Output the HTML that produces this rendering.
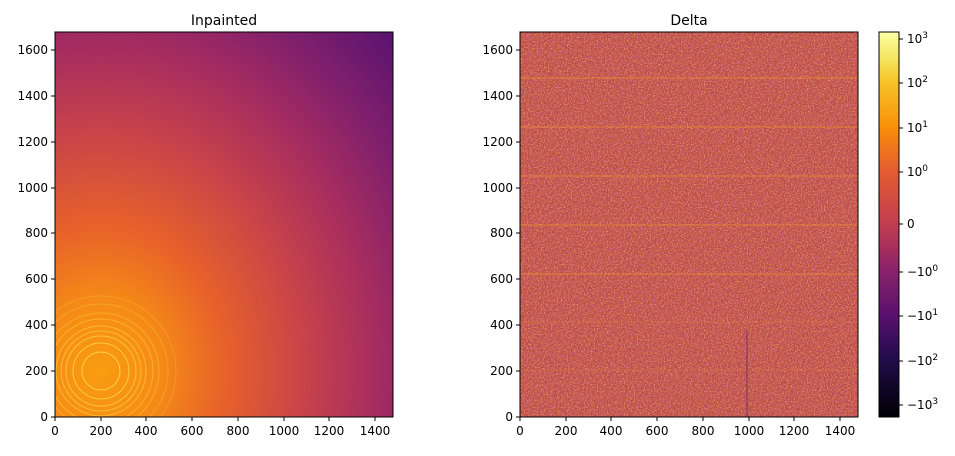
<!DOCTYPE html>
<html><head><style>
body{margin:0;background:#fff;font-family:"Liberation Sans","DejaVu Sans",sans-serif;}
</style></head><body>
<svg width="955" height="451" viewBox="0 0 955 451" xmlns="http://www.w3.org/2000/svg" font-family="'DejaVu Sans','Liberation Sans',sans-serif" font-size="12">
<defs>
<radialGradient id="lg" gradientUnits="userSpaceOnUse" cx="101" cy="371" r="480" gradientTransform="translate(101 371) scale(0.85 1) translate(-101 -371)">
<stop offset="0" stop-color="#f99d10"/>
<stop offset="0.15" stop-color="#f58a16"/>
<stop offset="0.3" stop-color="#e8622a"/>
<stop offset="0.5" stop-color="#c8434a"/>
<stop offset="0.68" stop-color="#a52c60"/>
<stop offset="0.84" stop-color="#7e1f6d"/>
<stop offset="1" stop-color="#5a136e"/>
</radialGradient>
<linearGradient id="cb" x1="0" y1="0" x2="0" y2="1">
<stop offset="0" stop-color="#fcffa4"/>
<stop offset="0.07" stop-color="#f3e55d"/>
<stop offset="0.13" stop-color="#f8c32a"/>
<stop offset="0.25" stop-color="#f98e09"/>
<stop offset="0.36" stop-color="#e55c30"/>
<stop offset="0.5" stop-color="#c13d50"/>
<stop offset="0.62" stop-color="#8a226a"/>
<stop offset="0.74" stop-color="#57106e"/>
<stop offset="0.85" stop-color="#210c4a"/>
<stop offset="1" stop-color="#000004"/>
</linearGradient>
<filter id="nz" x="0" y="0" width="100%" height="100%">
<feTurbulence type="fractalNoise" baseFrequency="0.7" numOctaves="1" seed="3"/>
<feColorMatrix type="matrix" values="0 0 0 0 0.92  0 0 0 0 0.48  0 0 0 0 0.12  2.2 0 0 0 -1.0"/>
</filter>
<filter id="nz2" x="0" y="0" width="100%" height="100%">
<feTurbulence type="fractalNoise" baseFrequency="0.7" numOctaves="1" seed="11"/>
<feColorMatrix type="matrix" values="0 0 0 0 0.55  0 0 0 0 0.16  0 0 0 0 0.38  2.2 0 0 0 -1.0"/>
</filter>
</defs>
<!-- left -->
<rect x="55" y="32" width="338" height="385" fill="url(#lg)"/>
<clipPath id="cl"><rect x="55" y="32" width="338" height="385"/></clipPath>
<g clip-path="url(#cl)" fill="none" stroke="#ffd84a">
<circle cx="101" cy="371" r="19" stroke-opacity="0.9"/>
<circle cx="101" cy="371" r="28" stroke-opacity="0.8"/>
<circle cx="101" cy="371" r="35" stroke-opacity="0.7"/>
<circle cx="101" cy="371" r="40" stroke-opacity="0.6"/>
<circle cx="101" cy="371" r="45" stroke-opacity="0.55"/>
<circle cx="101" cy="371" r="52" stroke-opacity="0.45"/>
<circle cx="101" cy="371" r="58" stroke-opacity="0.4"/>
<circle cx="101" cy="371" r="67" stroke-opacity="0.3"/>
<circle cx="101" cy="371" r="75" stroke-opacity="0.25"/>
</g>
<rect x="55" y="32" width="338" height="385" fill="none" stroke="#000" stroke-width="1"/>
<text x="224" y="25" text-anchor="middle" font-size="14">Inpainted</text>
<g text-anchor="middle">
<text x="55" y="435">0</text><text x="101" y="435">200</text><text x="146" y="435">400</text><text x="192" y="435">600</text><text x="238" y="435">800</text><text x="284" y="435">1000</text><text x="329" y="435">1200</text><text x="375" y="435">1400</text>
</g>
<g stroke="#000"><path d="M55 417v4M101 417v4M146 417v4M192 417v4M238 417v4M284 417v4M329 417v4M375 417v4"/>
<path d="M55 417h-4M55 371h-4M55 325h-4M55 279h-4M55 233h-4M55 188h-4M55 142h-4M55 96h-4M55 50h-4"/></g>
<g text-anchor="end">
<text x="48" y="421">0</text><text x="48" y="375">200</text><text x="48" y="329">400</text><text x="48" y="283">600</text><text x="48" y="237">800</text><text x="48" y="192">1000</text><text x="48" y="146">1200</text><text x="48" y="100">1400</text><text x="48" y="54">1600</text>
</g>
<!-- right -->
<rect x="520" y="32" width="338" height="385" fill="#bf4a42"/>
<rect x="520" y="32" width="338" height="385" filter="url(#nz)"/>
<rect x="520" y="32" width="338" height="385" filter="url(#nz2)"/>
<g stroke="#f09030" stroke-width="2" opacity="0.35">
<path d="M520 78h338M520 127h338M520 176h338M520 225h338M520 274h338"/>
</g>
<g stroke="#f09030" stroke-width="1.5" opacity="0.2"><path d="M520 322h338M520 370h338"/></g>
<path d="M747 330v87" stroke="#5a1a70" stroke-width="1.5" opacity="0.45"/>
<rect x="520" y="32" width="338" height="385" fill="none" stroke="#000"/>
<text x="689" y="25" text-anchor="middle" font-size="14">Delta</text>
<g text-anchor="middle">
<text x="520" y="435">0</text><text x="566" y="435">200</text><text x="611" y="435">400</text><text x="657" y="435">600</text><text x="703" y="435">800</text><text x="749" y="435">1000</text><text x="794" y="435">1200</text><text x="840" y="435">1400</text>
</g>
<g stroke="#000"><path d="M520 417v4M566 417v4M611 417v4M657 417v4M703 417v4M749 417v4M794 417v4M840 417v4"/>
<path d="M520 417h-4M520 371h-4M520 325h-4M520 279h-4M520 233h-4M520 188h-4M520 142h-4M520 96h-4M520 50h-4"/></g>
<g text-anchor="end">
<text x="513" y="421">0</text><text x="513" y="375">200</text><text x="513" y="329">400</text><text x="513" y="283">600</text><text x="513" y="237">800</text><text x="513" y="192">1000</text><text x="513" y="146">1200</text><text x="513" y="100">1400</text><text x="513" y="54">1600</text>
</g>
<!-- colorbar -->
<rect x="879" y="32" width="20" height="385" fill="url(#cb)" stroke="#000"/>
<g stroke="#000"><path d="M899 39h4M899 83h4M899 128h4M899 172h4M899 224h4M899 272h4M899 316h4M899 361h4M899 405h4"/></g>
<g font-size="12">
<text x="907" y="43">10<tspan dy="-5" font-size="9">3</tspan></text>
<text x="907" y="87">10<tspan dy="-5" font-size="9">2</tspan></text>
<text x="907" y="132">10<tspan dy="-5" font-size="9">1</tspan></text>
<text x="907" y="176">10<tspan dy="-5" font-size="9">0</tspan></text>
<text x="907" y="228">0</text>
<text x="907" y="276">−10<tspan dy="-5" font-size="9">0</tspan></text>
<text x="907" y="320">−10<tspan dy="-5" font-size="9">1</tspan></text>
<text x="907" y="365">−10<tspan dy="-5" font-size="9">2</tspan></text>
<text x="907" y="409">−10<tspan dy="-5" font-size="9">3</tspan></text>
</g>
</svg>
</body></html>
